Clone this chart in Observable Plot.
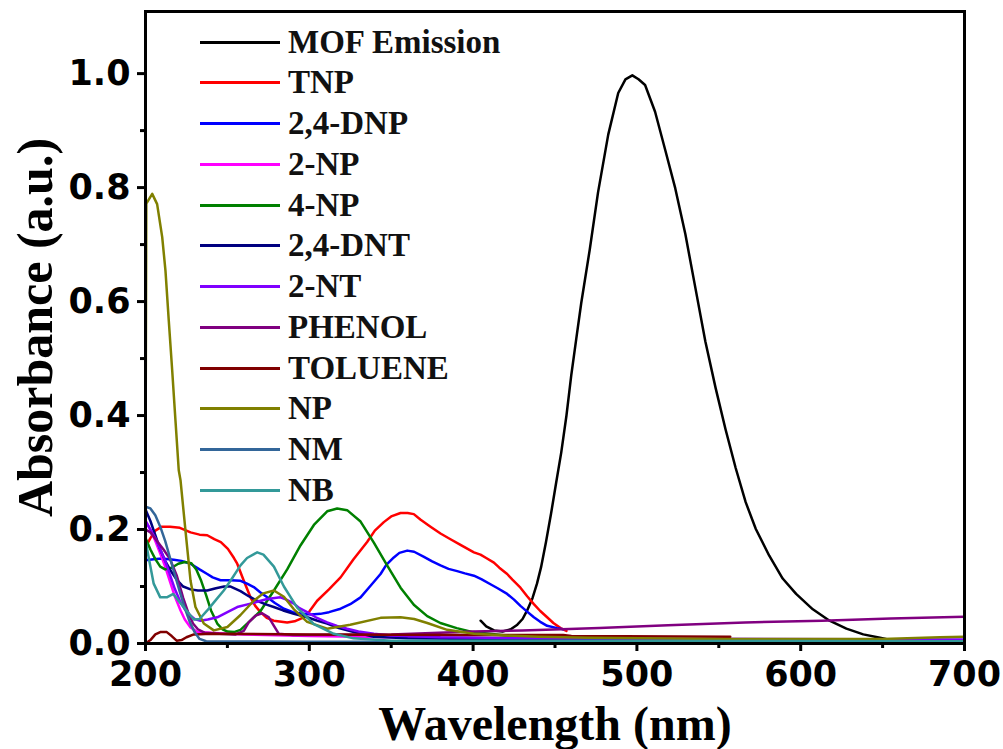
<!DOCTYPE html>
<html>
<head>
<meta charset="utf-8">
<script src="https://cdn.jsdelivr.net/npm/d3@7"></script>
<script src="https://cdn.jsdelivr.net/npm/@observablehq/plot@0.6"></script>
<style>
  html, body { margin: 0; padding: 0; background: #fff; }
  #wrap { position: relative; width: 1003px; height: 749px; }
  #legend { position: absolute; left: 0; top: 0; }
  .item { position: absolute; left: 200px; height: 40px; display: flex; align-items: center; }
  .swatch { width: 80px; height: 3px; margin-right: 8px; }
  .lab { font: bold 33px "Liberation Serif", "Times New Roman", serif; color: #111; white-space: nowrap; }
  svg g[aria-label="x-axis tick label"] text, svg g[aria-label="y-axis tick label"] text {
    font-family: "DejaVu Sans", sans-serif; font-weight: bold; font-size: 35px; fill: #000;
  }
</style>
</head>
<body>
<div id="wrap"><div id="legend"></div></div>
<script>
// ---- Data (wavelength nm, absorbance a.u.) ----
const MOF = [[404.6,0.040],[408,0.030],[412.8,0.023],[418,0.021],[423,0.025],[427,0.033],[430.2,0.043],[433,0.058],[436.3,0.080],[439,0.105],[441.5,0.134],[444.5,0.178],[447.6,0.228],[450.7,0.282],[453.8,0.335],[457,0.400],[459.9,0.470],[463,0.535],[466,0.597],[471.2,0.691],[476.3,0.792],[482.5,0.893],[488.6,0.966],[493,0.990],[497.2,0.997],[501,0.990],[505,0.980],[511.1,0.933],[517.3,0.866],[523.4,0.799],[529.6,0.718],[535.7,0.624],[541.8,0.530],[548,0.449],[554.1,0.376],[560.3,0.308],[566.4,0.248],[572.6,0.201],[580.8,0.154],[589,0.114],[597.2,0.087],[607.4,0.060],[617.6,0.040],[627.9,0.026],[638.2,0.016],[648.4,0.010],[652,0.008]];
const TNP = [[200,0.169],[203,0.185],[206,0.198],[210,0.205],[215,0.205],[221,0.203],[227.5,0.195],[233,0.191],[237.7,0.190],[242,0.183],[246,0.178],[250.3,0.166],[254,0.150],[256,0.140],[260,0.110],[264.1,0.081],[267,0.066],[270.2,0.055],[274,0.045],[278.3,0.040],[286.5,0.037],[291,0.039],[296.7,0.046],[300,0.056],[304.8,0.075],[312,0.095],[319.1,0.116],[327,0.148],[335.3,0.178],[340,0.198],[345.5,0.213],[350,0.223],[355.7,0.229],[360,0.229],[363.8,0.227],[368,0.217],[374,0.205],[380.1,0.193],[386.2,0.183],[392.3,0.173],[400.5,0.160],[404.5,0.156],[408,0.150],[412.7,0.142],[416,0.133],[420.8,0.122],[424,0.112],[428.9,0.098],[433,0.083],[437.1,0.069],[441,0.057],[445.2,0.046],[449,0.036],[453.4,0.027],[457,0.022]];
const DNP24 = [[200,0.146],[205,0.148],[210,0.149],[217.3,0.147],[222,0.145],[227.5,0.140],[233,0.130],[237.7,0.122],[241,0.116],[245.8,0.111],[252,0.111],[258,0.110],[262,0.105],[266.1,0.099],[270,0.090],[274.3,0.081],[279,0.071],[284.5,0.061],[290,0.055],[296.7,0.052],[301,0.051],[306.8,0.052],[312,0.055],[319.1,0.061],[325,0.069],[331.3,0.081],[337,0.100],[343.5,0.122],[347,0.138],[351.6,0.151],[355,0.159],[359.8,0.163],[364,0.161],[370,0.152],[375,0.144],[380.1,0.137],[385,0.131],[390.3,0.127],[395,0.123],[400.5,0.119],[405,0.113],[410.6,0.104],[415,0.097],[420.8,0.087],[425,0.077],[428.9,0.066],[433,0.056],[437.1,0.046],[441,0.038],[445.2,0.031],[451.3,0.027],[455,0.025]];
const NP2 = [[200,0.215],[203,0.200],[206,0.180],[209,0.158],[212,0.135],[215,0.108],[218,0.082],[221.4,0.058],[224,0.042],[227.5,0.028],[232,0.020],[245,0.018],[260,0.016],[300,0.013],[350,0.011],[400,0.009],[500,0.007],[600,0.006],[700,0.005]];
const NP4 = [[200,0.185],[203,0.165],[206,0.148],[209,0.135],[212,0.130],[216,0.133],[220,0.140],[224,0.143],[228,0.141],[231,0.130],[234,0.110],[237,0.085],[240,0.058],[243.8,0.035],[247,0.025],[250,0.021],[254,0.020],[258,0.024],[264,0.040],[270.2,0.057],[278.4,0.093],[286.5,0.130],[294.6,0.172],[302.8,0.208],[310.9,0.232],[317,0.237],[323.1,0.234],[331.3,0.214],[339.4,0.177],[347.5,0.137],[355.7,0.098],[363.8,0.068],[372,0.048],[380,0.036],[390,0.027],[400,0.020],[420,0.014],[450,0.011],[480,0.009]];
const DNT24 = [[200,0.235],[203,0.215],[206,0.190],[209,0.165],[212,0.145],[216,0.125],[219.3,0.111],[223,0.100],[227.5,0.095],[232,0.093],[237.7,0.093],[243,0.097],[248,0.100],[252,0.100],[258,0.092],[263,0.083],[268.2,0.075],[273,0.069],[278.3,0.064],[284,0.058],[290.6,0.052],[298.7,0.046],[305,0.040],[310.9,0.035],[318,0.027],[327.2,0.020],[339.4,0.012],[360,0.009],[400,0.008],[500,0.006],[700,0.005]];
const NT2 = [[200,0.215],[203,0.200],[206,0.185],[209,0.165],[212,0.145],[215,0.120],[218,0.095],[221,0.075],[224,0.060],[227,0.050],[230,0.043],[233.6,0.040],[238,0.042],[243.8,0.046],[250,0.055],[256,0.064],[264.1,0.070],[274.3,0.078],[282.4,0.081],[286,0.077],[290.6,0.070],[294,0.062],[298.7,0.055],[304,0.046],[310.9,0.037],[317,0.031],[323.1,0.026],[330,0.021],[339.4,0.017],[350,0.014],[380,0.011],[450,0.009],[700,0.007]];
const PHENOL = [[200,0.200],[203,0.195],[207,0.180],[211,0.165],[215,0.148],[219,0.120],[223,0.080],[226,0.055],[229,0.035],[232,0.025],[236,0.019],[245,0.017],[255,0.016],[260,0.022],[263,0.037],[267.2,0.049],[271.2,0.053],[275.3,0.046],[278.4,0.031],[281.4,0.017],[290,0.015],[350,0.016],[400,0.021],[430,0.023],[454,0.025],[477,0.027],[519,0.032],[566,0.037],[613,0.040],[655,0.044],[700,0.047]];
const TOLUENE = [[200,0.000],[203,0.006],[206,0.016],[209,0.020],[213,0.020],[216,0.013],[219,0.005],[222,0.006],[225,0.011],[229.5,0.016],[240,0.017],[300,0.016],[400,0.015],[455,0.015],[460,0.013],[557,0.012]];
const NP = [[200,0.300],[200.5,0.772],[204.1,0.789],[207.1,0.771],[210.2,0.713],[212.2,0.654],[214.2,0.567],[216.3,0.479],[218.3,0.391],[220.3,0.304],[221.4,0.286],[224.4,0.198],[227.5,0.110],[230.5,0.064],[235.6,0.035],[241.7,0.023],[250,0.029],[258,0.050],[266.1,0.075],[272,0.088],[278.4,0.093],[284.5,0.082],[290.6,0.060],[298.7,0.038],[310.9,0.026],[325,0.033],[343.5,0.045],[355.7,0.046],[364,0.043],[372,0.036],[384.2,0.024],[400.5,0.017],[420,0.014],[440,0.012],[470,0.010],[550,0.008],[650,0.008],[685,0.011],[700,0.012]];
const NM = [[200,0.240],[203,0.237],[206,0.225],[209,0.205],[212,0.180],[215,0.150],[218,0.120],[221,0.090],[224,0.062],[227,0.038],[230,0.020],[233,0.008],[237,0.004],[300,0.003],[700,0.003]];
const NB = [[200,0.181],[202,0.150],[205,0.105],[209,0.081],[213,0.081],[217,0.087],[221,0.072],[225,0.058],[229.5,0.042],[233,0.043],[237.7,0.058],[242,0.073],[247.8,0.093],[253,0.115],[258,0.137],[262,0.150],[268.2,0.160],[272,0.156],[278.4,0.135],[284.5,0.100],[292.6,0.063],[302.8,0.034],[315,0.017],[327,0.009],[350,0.005],[700,0.004]];

const seriesNames = ["MOF Emission","TNP","2,4-DNP","2-NP","4-NP","2,4-DNT","2-NT","PHENOL","TOLUENE","NP","NM","NB"];
const seriesColors = ["#000000","#ff0000","#0000ff","#ff00ff","#008000","#000080","#8000ff","#800080","#800000","#808000","#336699","#339999"];
const seriesData = [MOF, TNP, DNP24, NP2, NP4, DNT24, NT2, PHENOL, TOLUENE, NP, NM, NB];

const xMajor = [200,300,400,500,600,700];
const xMinor = [250,350,450,550,650];
const yMajor = [0,0.2,0.4,0.6,0.8,1.0];
const yMinor = [0.1,0.3,0.5,0.7,0.9];

const lineMarks = seriesData.map((d, i) =>
  Plot.line(d, {x: d => d[0], y: d => d[1], stroke: seriesColors[i], strokeWidth: 2.5, curve: "linear"})
);

const chart = Plot.plot({
  width: 1003, height: 749,
  marginLeft: 145, marginRight: 39, marginTop: 11, marginBottom: 106,
  style: {background: "#fff", color: "#000"},
  x: {domain: [200, 700]},
  y: {domain: [0, 1.109]},
  marks: [
    ...lineMarks,
    Plot.frame({stroke: "#000", strokeWidth: 3}),
    Plot.axisX({ticks: xMajor, tickSize: 8, tickPadding: 10, strokeWidth: 3, tickFormat: d => String(d), label: null,
      fontSize: 35, fontWeight: "bold", fontFamily: "DejaVu Sans"}),
    Plot.axisX({ticks: xMinor, tickSize: 5, strokeWidth: 3, tickFormat: () => "", label: null}),
    Plot.axisY({ticks: yMajor, tickSize: 8, tickPadding: 7, strokeWidth: 3, tickFormat: d3.format(".1f"), label: null,
      fontSize: 35, fontWeight: "bold", fontFamily: "DejaVu Sans"}),
    Plot.axisY({ticks: yMinor, tickSize: 5, strokeWidth: 3, tickFormat: () => "", label: null}),
    Plot.text(["Wavelength (nm)"], {frameAnchor: "bottom", dy: 81, lineAnchor: "middle", textAnchor: "middle",
      fontSize: 48, fontWeight: "bold", fontFamily: "Liberation Serif", fill: "#000"}),
    Plot.text(["Absorbance (a.u.)"], {frameAnchor: "left", dx: -110, rotate: -90, lineAnchor: "middle", textAnchor: "middle",
      fontSize: 50, fontWeight: "bold", fontFamily: "Liberation Serif", fill: "#000"})
  ]
});
document.getElementById("wrap").insertBefore(chart, document.getElementById("legend"));

// Legend (HTML, overlaid on the plot area)
const legend = document.getElementById("legend");
seriesNames.forEach((name, i) => {
  const item = document.createElement("div");
  item.className = "item";
  item.style.top = (42 + i * 40.75 - 20) + "px";
  const sw = document.createElement("div");
  sw.className = "swatch";
  sw.style.background = seriesColors[i];
  const lab = document.createElement("span");
  lab.className = "lab";
  lab.textContent = name;
  item.appendChild(sw); item.appendChild(lab);
  legend.appendChild(item);
});
</script>
</body>
</html>
